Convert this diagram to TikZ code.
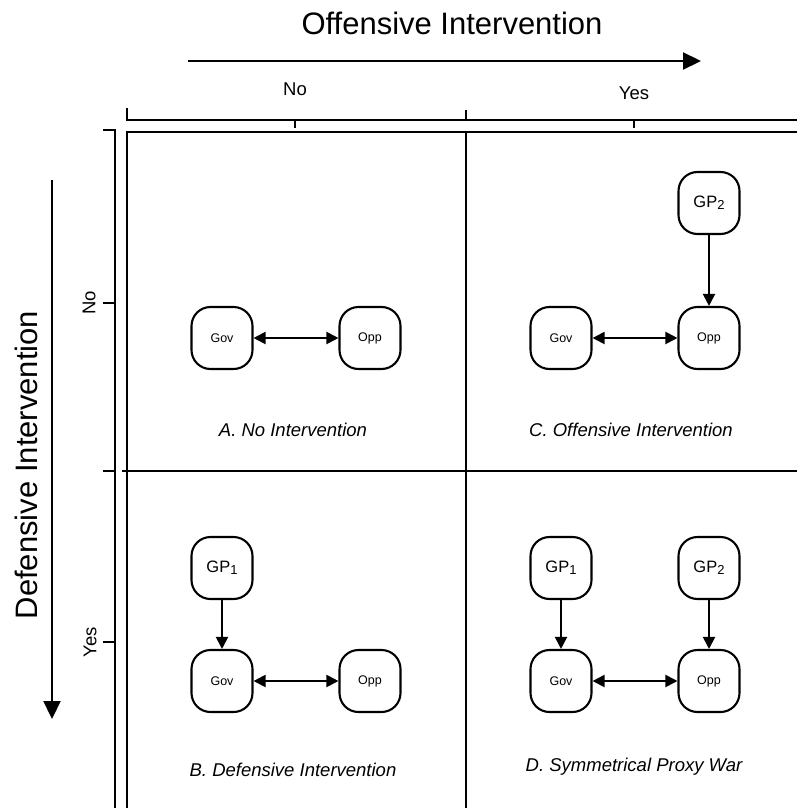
\documentclass[tikz,border=0pt]{standalone}
\usepackage{fontspec}
\setmainfont{Liberation Sans}
\usetikzlibrary{arrows.meta}
\begin{document}
\begin{tikzpicture}[x=1pt,y=-1pt,
  grid/.style={line width=2.8pt},
  axis/.style={line width=2.4pt},
  actor/.style={draw,line width=2.1pt,rounded corners=19pt,minimum width=61pt,minimum height=62pt,inner sep=0pt,font=\fontsize{12.5}{14}\selectfont},
  gp/.style={actor,font=\fontsize{16.5}{18}\selectfont},
  link/.style={line width=2pt,-{Triangle[length=12pt,width=12pt]}},
  dlink/.style={line width=2pt,{Triangle[length=12pt,width=12pt]}-{Triangle[length=12pt,width=12pt]}},
  big/.style={-{Triangle[length=18pt,width=17pt]},line width=2.2pt},
  panelcap/.style={font=\itshape\fontsize{18.5}{21}\selectfont},
  ticklabel/.style={font=\fontsize{18.5}{21}\selectfont},
  bigtitle/.style={font=\fontsize{31}{34}\selectfont}
]
\useasboundingbox (0,0) rectangle (797,808);
% titles and arrows
\node[bigtitle] (toptitle) at (452,23) {Offensive Intervention};
\coordinate (ta) at (188,61); \coordinate (tb) at (701,61);
\draw[big] (ta) -- (tb);
\node[bigtitle,rotate=90] (lefttitle) at (26,465) {Defensive Intervention};
\coordinate (la) at (52,180); \coordinate (lb) at (52,719);
\draw[big] (la) -- (lb);
% top axis
\draw[axis] (127,108) -- (127,120) -- (797,120);
\draw[axis] (466,110) -- (466,120);
\draw[axis] (295,120) -- (295,128);
\draw[axis] (634,120) -- (634,128);
\node[ticklabel] (tno) at (295,89) {No};
\node[ticklabel] (tyes) at (634,93) {Yes};
% left axis
\draw[axis] (103,130) -- (115,130) -- (115,808);
\draw[axis] (103,471) -- (115,471);
\draw[axis] (103,303) -- (115,303);
\draw[axis] (103,642) -- (115,642);
\node[ticklabel,rotate=90] (lno) at (89,303) {No};
\node[ticklabel,rotate=90] (lyes) at (90,642) {Yes};
% grid
\draw[grid] (797,132) -- (127,132) -- (127,808);
\draw[grid] (466,132) -- (466,808);
\draw[grid] (122,471) -- (797,471);
% panel A
\node[actor] (agov) at (222,338) {Gov};
\node[actor] (aopp) at (370,338) {Opp};
\draw[dlink] (agov) -- (aopp);
\node[panelcap] (acap) at (293,430) {A. No Intervention};
% panel C
\node[gp] (cgp) at (709,203) {GP\raisebox{-0.2ex}{\fontsize{13}{13}\selectfont 2}};
\node[actor] (cgov) at (561,338) {Gov};
\node[actor] (copp) at (709,338) {Opp};
\draw[dlink] (cgov) -- (copp);
\draw[link] (cgp) -- (copp);
\node[panelcap] (ccap) at (631,430) {C. Offensive Intervention};
% panel B
\node[gp] (bgp) at (222,568) {GP\raisebox{-0.2ex}{\fontsize{13}{13}\selectfont 1}};
\node[actor] (bgov) at (222,681) {Gov};
\node[actor] (bopp) at (370,681) {Opp};
\draw[dlink] (bgov) -- (bopp);
\draw[link] (bgp) -- (bgov);
\node[panelcap] (bcap) at (293,770) {B. Defensive Intervention};
% panel D
\node[gp] (dgp1) at (561,568) {GP\raisebox{-0.2ex}{\fontsize{13}{13}\selectfont 1}};
\node[gp] (dgp2) at (709,568) {GP\raisebox{-0.2ex}{\fontsize{13}{13}\selectfont 2}};
\node[actor] (dgov) at (561,681) {Gov};
\node[actor] (dopp) at (709,681) {Opp};
\draw[dlink] (dgov) -- (dopp);
\draw[link] (dgp1) -- (dgov);
\draw[link] (dgp2) -- (dopp);
\node[panelcap] (dcap) at (634,767) {D. Symmetrical Proxy War};
\end{tikzpicture}
\end{document}
